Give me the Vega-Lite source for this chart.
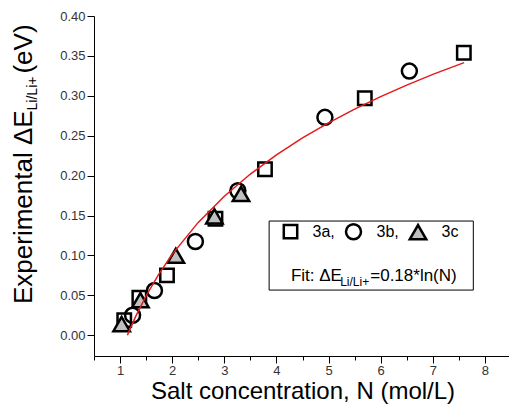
{
  "$schema": "https://vega.github.io/schema/vega-lite/v6.json",
  "width": 417,
  "height": 340,
  "autosize": {"type": "none"},
  "padding": {"left": 94, "top": 16, "right": 0, "bottom": 48},
  "background": "white",
  "config": {
    "view": {"stroke": null},
    "font": "Liberation Sans",
    "axis": {
      "grid": false,
      "domainColor": "black",
      "tickColor": "black",
      "labelColor": "#333333",
      "labelFontSize": 13,
      "labelFont": "Liberation Sans",
      "labelPadding": 2,
      "labelFlush": false,
      "labelOverlap": false,
      "titleFont": "Liberation Sans",
      "titleFontSize": 24,
      "titleFontWeight": "normal",
      "titleColor": "black",
      "titlePadding": 0
    }
  },
  "resolve": {"axis": {"x": "independent"}},
  "datasets": {
    "points": [
      {"N": 1.08, "E": 0.019, "series": "3a"},
      {"N": 1.37, "E": 0.047, "series": "3a"},
      {"N": 1.9, "E": 0.075, "series": "3a"},
      {"N": 2.83, "E": 0.146, "series": "3a"},
      {"N": 3.78, "E": 0.208, "series": "3a"},
      {"N": 5.695, "E": 0.297, "series": "3a"},
      {"N": 7.595, "E": 0.354, "series": "3a"},
      {"N": 1.24, "E": 0.025, "series": "3b"},
      {"N": 1.66, "E": 0.056, "series": "3b"},
      {"N": 2.445, "E": 0.1175, "series": "3b"},
      {"N": 3.26, "E": 0.181, "series": "3b"},
      {"N": 4.93, "E": 0.273, "series": "3b"},
      {"N": 6.55, "E": 0.331, "series": "3b"},
      {"N": 1.03, "E": 0.014, "series": "3c"},
      {"N": 1.39, "E": 0.044, "series": "3c"},
      {"N": 2.07, "E": 0.0996, "series": "3c"},
      {"N": 2.81, "E": 0.149, "series": "3c"},
      {"N": 3.32, "E": 0.177, "series": "3c"}
    ],
    "fit": [
      {"N": 1.14, "E": 0.0},
      {"N": 1.3, "E": 0.0237},
      {"N": 1.5, "E": 0.0495},
      {"N": 1.75, "E": 0.0772},
      {"N": 2.0, "E": 0.1013},
      {"N": 2.5, "E": 0.1414},
      {"N": 3.0, "E": 0.1742},
      {"N": 3.5, "E": 0.202},
      {"N": 4.0, "E": 0.226},
      {"N": 4.5, "E": 0.2472},
      {"N": 5.0, "E": 0.2662},
      {"N": 5.5, "E": 0.2834},
      {"N": 6.0, "E": 0.299},
      {"N": 6.5, "E": 0.3134},
      {"N": 7.0, "E": 0.3268},
      {"N": 7.6, "E": 0.3416}
    ]
  },
  "layer": [
    {
      "data": {"name": "points"},
      "mark": {"type": "point", "stroke": "black", "strokeWidth": 2.5, "opacity": 1},
      "encoding": {
        "x": {
          "field": "N", "type": "quantitative",
          "scale": {"domain": [0.5, 8.5], "nice": false, "zero": false},
          "axis": {
            "orient": "bottom",
            "title": "Salt concentration, N (mol/L)",
            "values": [1, 2, 3, 4, 5, 6, 7, 8],
            "format": "d",
            "tickSize": 7,
            "labelPadding": 1,
            "titlePadding": 2
          }
        },
        "y": {
          "field": "E", "type": "quantitative",
          "scale": {"domain": [-0.026, 0.4], "nice": false, "zero": false},
          "axis": {
            "title": null,
            "values": [0, 0.025, 0.05, 0.075, 0.1, 0.125, 0.15, 0.175, 0.2, 0.225, 0.25, 0.275, 0.3, 0.325, 0.35, 0.375, 0.4],
            "labelExpr": "abs(datum.value * 20 - round(datum.value * 20)) < 0.001 ? format(datum.value, '.2f') : ''",
            "tickSize": {"condition": {"test": "abs(datum.value * 20 - round(datum.value * 20)) > 0.001", "value": 4}, "value": 7}
          }
        },
        "shape": {
          "field": "series", "type": "nominal",
          "scale": {"domain": ["3a", "3b", "3c"], "range": ["square", "circle", "triangle-up"]},
          "legend": {
            "orient": "none",
            "legendX": 188.5,
            "legendY": 206.5,
            "direction": "horizontal",
            "title": null,
            "labelExpr": "datum.label === '3c' ? datum.label : datum.label + ','",
            "labelFont": "Liberation Sans",
            "labelFontSize": 16,
            "labelColor": "black",
            "labelOffset": 14,
            "columnPadding": 5,
            "symbolStrokeColor": "black",
            "symbolStrokeWidth": 2.5,
            "padding": 0
          }
        },
        "fill": {
          "field": "series", "type": "nominal",
          "scale": {"domain": ["3a", "3b", "3c"], "range": ["transparent", "transparent", "#c0c0c0"]}
        },
        "size": {
          "field": "series", "type": "nominal",
          "scale": {"domain": ["3a", "3b", "3c"], "range": [180, 270, 420]}
        }
      }
    },
    {
      "data": {"name": "fit"},
      "mark": {"type": "line", "color": "#e41a1c", "strokeWidth": 1.5},
      "encoding": {
        "x": {
          "field": "N", "type": "quantitative",
          "axis": {
            "orient": "bottom",
            "title": null,
            "values": [0.5, 1.5, 2.5, 3.5, 4.5, 5.5, 6.5, 7.5, 8.5],
            "labels": false,
            "domain": false,
            "tickSize": 4
          }
        },
        "y": {"field": "E", "type": "quantitative", "title": null}
      }
    },
    {
      "data": {"values": [{}]},
      "mark": {"type": "rect", "fill": "white", "fillOpacity": 0, "stroke": "black", "strokeWidth": 1},
      "encoding": {
        "x": {"datum": 3.86, "type": "quantitative", "axis": null},
        "x2": {"datum": 7.777},
        "y": {"datum": 0.1431, "type": "quantitative", "title": null},
        "y2": {"datum": 0.0566}
      }
    },
    {
      "data": {"values": [{}]},
      "mark": {"type": "text", "text": "Fit: ΔE", "align": "left", "baseline": "alphabetic", "fontSize": 17, "font": "Liberation Sans", "color": "black"},
      "encoding": {
        "x": {"datum": 4.278, "type": "quantitative", "axis": null},
        "y": {"datum": 0.0683, "type": "quantitative", "title": null}
      }
    },
    {
      "data": {"values": [{}]},
      "mark": {"type": "text", "text": "Li/Li+", "align": "left", "baseline": "alphabetic", "fontSize": 12, "font": "Liberation Sans", "color": "black"},
      "encoding": {
        "x": {"datum": 5.223, "type": "quantitative", "axis": null},
        "y": {"datum": 0.0616, "type": "quantitative", "title": null}
      }
    },
    {
      "data": {"values": [{}]},
      "mark": {"type": "text", "text": "=0.18*ln(N)", "align": "left", "baseline": "alphabetic", "fontSize": 17, "font": "Liberation Sans", "color": "black"},
      "encoding": {
        "x": {"datum": 5.80, "type": "quantitative", "axis": null},
        "y": {"datum": 0.0683, "type": "quantitative", "title": null}
      }
    },
    {
      "data": {"values": [{}]},
      "mark": {"type": "text", "text": "Experimental ΔE", "angle": 270, "align": "left", "baseline": "alphabetic", "fontSize": 26, "font": "Liberation Sans", "color": "black"},
      "encoding": {
        "x": {"datum": -0.69, "type": "quantitative", "axis": null},
        "y": {"datum": 0.0391, "type": "quantitative", "title": null}
      }
    },
    {
      "data": {"values": [{}]},
      "mark": {"type": "text", "text": "Li/Li+", "angle": 270, "align": "left", "baseline": "alphabetic", "fontSize": 14, "font": "Liberation Sans", "color": "black"},
      "encoding": {
        "x": {"datum": -0.599, "type": "quantitative", "axis": null},
        "y": {"datum": 0.2817, "type": "quantitative", "title": null}
      }
    },
    {
      "data": {"values": [{}]},
      "mark": {"type": "text", "text": "(eV)", "angle": 270, "align": "left", "baseline": "alphabetic", "fontSize": 26, "font": "Liberation Sans", "color": "black"},
      "encoding": {
        "x": {"datum": -0.69, "type": "quantitative", "axis": null},
        "y": {"datum": 0.3279, "type": "quantitative", "title": null}
      }
    }
  ]
}
